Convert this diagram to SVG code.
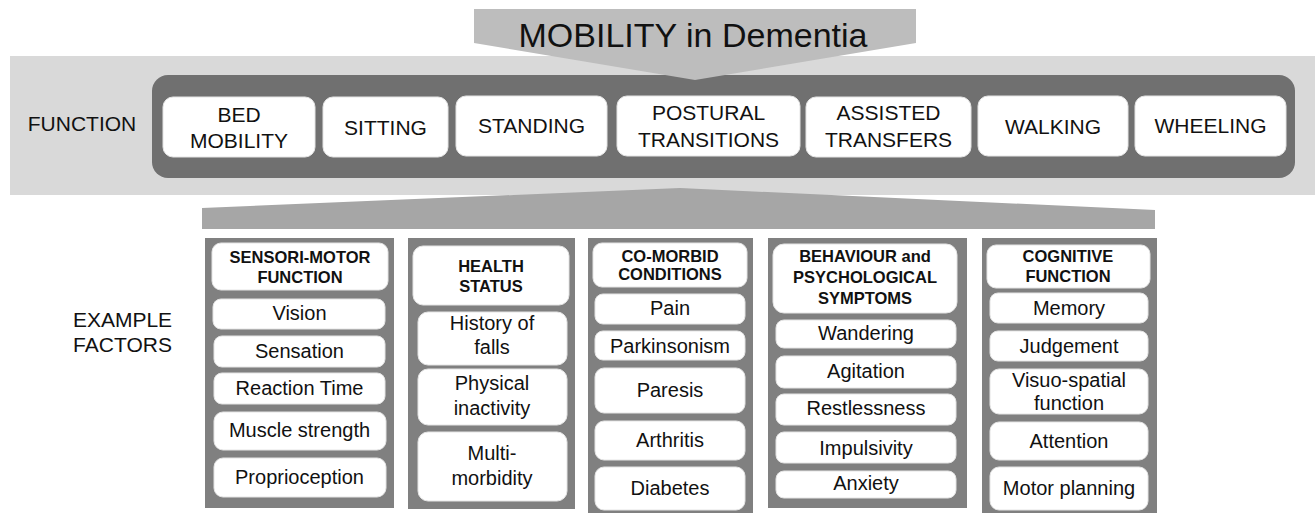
<svg xmlns="http://www.w3.org/2000/svg" width="1315" height="513" viewBox="0 0 1315 513">
  <style>
    text { font-family: "Liberation Sans", Arial, sans-serif; fill: #111; text-anchor: middle; }
    .title { font-size: 34px; }
    .side { font-size: 21px; }
    .fn { font-size: 21px; }
    .hd { font-size: 16.5px; font-weight: bold; }
    .it { font-size: 20px; }
    .box { fill: #ffffff; stroke: #e4e4e4; stroke-width: 1; }
    .panel { fill: #808080; }
  </style>

  <rect width="1315" height="513" fill="#ffffff"/>

  <!-- function band background -->
  <rect x="10" y="56" width="1305" height="139" fill="#d9d9d9"/>

  <!-- funnel into the factor columns -->
  <polygon points="202,229 202,208 680,188 1155,210 1155,229" fill="#a6a6a6"/>

  <!-- dark band holding the function boxes -->
  <rect x="152" y="75" width="1143" height="103" rx="16" fill="#707070"/>

  <!-- title pointer -->
  <g id="title">
    <polygon points="474,9 916,9 916,43 695,80 474,43" fill="#bdbdbd"/>
    <text class="title" x="693" y="47">MOBILITY in Dementia</text>
  </g>

  <g id="label-function">
    <text class="side" x="82" y="131">FUNCTION</text>
  </g>

  <!-- function boxes -->
  <g id="fn-bed">
    <rect class="box" x="163" y="97" width="152" height="60" rx="10"/>
    <text class="fn" x="239" y="122">BED</text>
    <text class="fn" x="239" y="148">MOBILITY</text>
  </g>
  <g id="fn-sitting">
    <rect class="box" x="323" y="97" width="125" height="60" rx="10"/>
    <text class="fn" x="385.5" y="135">SITTING</text>
  </g>
  <g id="fn-standing">
    <rect class="box" x="456" y="96" width="151" height="60" rx="10"/>
    <text class="fn" x="531.5" y="133">STANDING</text>
  </g>
  <g id="fn-postural">
    <rect class="box" x="617" y="96" width="183" height="60" rx="10"/>
    <text class="fn" x="708.5" y="120">POSTURAL</text>
    <text class="fn" x="708.5" y="147">TRANSITIONS</text>
  </g>
  <g id="fn-assisted">
    <rect class="box" x="806" y="97" width="165" height="60" rx="10"/>
    <text class="fn" x="888.5" y="120">ASSISTED</text>
    <text class="fn" x="888.5" y="147">TRANSFERS</text>
  </g>
  <g id="fn-walking">
    <rect class="box" x="978" y="96" width="150" height="60" rx="10"/>
    <text class="fn" x="1053" y="134">WALKING</text>
  </g>
  <g id="fn-wheeling">
    <rect class="box" x="1135" y="96" width="151" height="60" rx="10"/>
    <text class="fn" x="1210.5" y="133">WHEELING</text>
  </g>

  <g id="label-factors">
    <text class="side" x="122.5" y="327">EXAMPLE</text>
    <text class="side" x="122.5" y="352">FACTORS</text>
  </g>

  <!-- column 1 -->
  <g id="col-sensorimotor">
    <rect class="panel" x="205" y="238" width="189" height="270"/>
    <rect class="box" x="212" y="243" width="176" height="47" rx="9"/>
    <text class="hd" x="300" y="263">SENSORI-MOTOR</text>
    <text class="hd" x="300" y="283">FUNCTION</text>
    <rect class="box" x="213" y="299" width="172" height="30" rx="8"/>
    <text class="it" x="299.5" y="320">Vision</text>
    <rect class="box" x="214" y="336" width="171" height="31" rx="8"/>
    <text class="it" x="299.5" y="358">Sensation</text>
    <rect class="box" x="214" y="373" width="171" height="31" rx="8"/>
    <text class="it" x="299.5" y="395">Reaction Time</text>
    <rect class="box" x="214" y="412" width="172" height="38" rx="9"/>
    <text class="it" x="299.5" y="437">Muscle strength</text>
    <rect class="box" x="214" y="458" width="172" height="39" rx="9"/>
    <text class="it" x="299.5" y="484">Proprioception</text>
  </g>

  <!-- column 2 -->
  <g id="col-health">
    <rect class="panel" x="408" y="238" width="167" height="271"/>
    <rect class="box" x="413" y="246" width="156" height="59" rx="10"/>
    <text class="hd" x="491" y="272">HEALTH</text>
    <text class="hd" x="491" y="292">STATUS</text>
    <rect class="box" x="418" y="312" width="149" height="53" rx="10"/>
    <text class="it" x="492" y="330">History of</text>
    <text class="it" x="492" y="354">falls</text>
    <rect class="box" x="418" y="369" width="149" height="56" rx="10"/>
    <text class="it" x="492" y="390">Physical</text>
    <text class="it" x="492" y="415">inactivity</text>
    <rect class="box" x="418" y="432" width="149" height="69" rx="10"/>
    <text class="it" x="492" y="460">Multi-</text>
    <text class="it" x="492" y="485">morbidity</text>
  </g>

  <!-- column 3 -->
  <g id="col-comorbid">
    <rect class="panel" x="588" y="238" width="165" height="275"/>
    <rect class="box" x="593" y="243" width="154" height="44" rx="9"/>
    <text class="hd" x="670" y="262">CO-MORBID</text>
    <text class="hd" x="670" y="280">CONDITIONS</text>
    <rect class="box" x="595" y="294" width="150" height="30" rx="8"/>
    <text class="it" x="670" y="315">Pain</text>
    <rect class="box" x="595" y="331" width="150" height="29" rx="8"/>
    <text class="it" x="670" y="353">Parkinsonism</text>
    <rect class="box" x="595" y="368" width="150" height="45" rx="9"/>
    <text class="it" x="670" y="397">Paresis</text>
    <rect class="box" x="595" y="421" width="150" height="39" rx="9"/>
    <text class="it" x="670" y="447">Arthritis</text>
    <rect class="box" x="595" y="467" width="150" height="43" rx="9"/>
    <text class="it" x="670" y="495">Diabetes</text>
  </g>

  <!-- column 4 -->
  <g id="col-behaviour">
    <rect class="panel" x="768" y="238" width="199" height="270"/>
    <rect class="box" x="773" y="244" width="184" height="69" rx="11"/>
    <text class="hd" x="865" y="262">BEHAVIOUR and</text>
    <text class="hd" x="865" y="283">PSYCHOLOGICAL</text>
    <text class="hd" x="865" y="304">SYMPTOMS</text>
    <rect class="box" x="776" y="320" width="180" height="28" rx="8"/>
    <text class="it" x="866" y="340">Wandering</text>
    <rect class="box" x="776" y="356" width="180" height="32" rx="8"/>
    <text class="it" x="866" y="378">Agitation</text>
    <rect class="box" x="776" y="394" width="180" height="31" rx="8"/>
    <text class="it" x="866" y="415">Restlessness</text>
    <rect class="box" x="776" y="432" width="180" height="31" rx="8"/>
    <text class="it" x="866" y="455">Impulsivity</text>
    <rect class="box" x="776" y="471" width="180" height="27" rx="8"/>
    <text class="it" x="866" y="490">Anxiety</text>
  </g>

  <!-- column 5 -->
  <g id="col-cognitive">
    <rect class="panel" x="982" y="238" width="175" height="275"/>
    <rect class="box" x="987" y="245" width="163" height="43" rx="9"/>
    <text class="hd" x="1068" y="262">COGNITIVE</text>
    <text class="hd" x="1068" y="282">FUNCTION</text>
    <rect class="box" x="990" y="293" width="158" height="30" rx="8"/>
    <text class="it" x="1069" y="315">Memory</text>
    <rect class="box" x="990" y="331" width="158" height="30" rx="8"/>
    <text class="it" x="1069" y="353">Judgement</text>
    <rect class="box" x="990" y="369" width="158" height="45" rx="9"/>
    <text class="it" x="1069" y="387">Visuo-spatial</text>
    <text class="it" x="1069" y="410">function</text>
    <rect class="box" x="990" y="422" width="158" height="38" rx="9"/>
    <text class="it" x="1069" y="448">Attention</text>
    <rect class="box" x="990" y="467" width="158" height="43" rx="9"/>
    <text class="it" x="1069" y="495">Motor planning</text>
  </g>

  <!-- no connectors between nodes; empty group kept for structure -->
  <g id="connectors"/>
</svg>
